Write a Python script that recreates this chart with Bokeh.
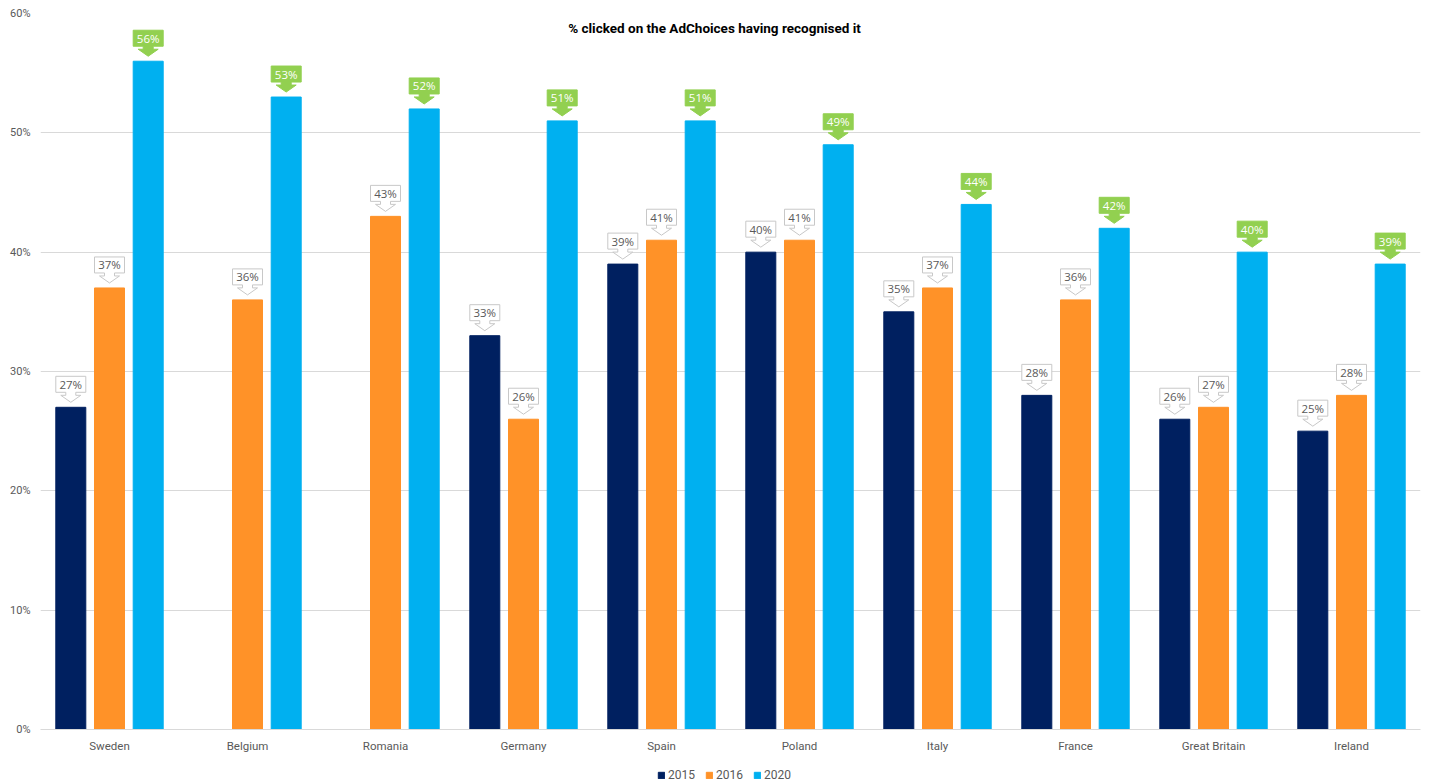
from bokeh.plotting import figure
from bokeh.models import Range1d, FixedTicker, Legend, LegendItem
from bokeh.layouts import column
from bokeh.embed import file_html
from bokeh.resources import INLINE
from bokeh.core.properties import value

countries = ["Sweden", "Belgium", "Romania", "Germany", "Spain", "Poland", "Italy", "France", "Great Britain", "Ireland"]
years = ["2015", "2016", "2020"]
v2015 = [27, None, None, 33, 39, 40, 35, 28, 26, 25]
v2016 = [37, 36, 43, 26, 41, 41, 37, 36, 27, 28]
v2020 = [56, 53, 52, 51, 51, 49, 44, 42, 40, 39]
y_ticks = [0, 10, 20, 30, 40, 50, 60]
title_text = "% clicked on the AdChoices having recognised it"

colors = ["#002060", "#FF9228", "#00B0F0"]
series = [v2015, v2016, v2020]

W, H = 1430, 783
LEG_H = 19
H1 = H - LEG_H
ML, MR, MT = 40, 10, 13
MB = H1 - 729
fw, fh = W - ML - MR, H1 - MT - MB
xmin, xmax, ymin, ymax = -0.5, 9.5, 0, 60
pxx = fw / (xmax - xmin)
pxy = fh / (ymax - ymin)

p = figure(width=W, height=H1, output_backend="svg", toolbar_location=None,
           x_range=Range1d(xmin, xmax), y_range=Range1d(ymin, ymax),
           min_border_left=ML, min_border_right=MR, min_border_top=MT, min_border_bottom=MB)
p.outline_line_color = None
p.xgrid.grid_line_color = None
p.ygrid.grid_line_color = "#D9D9D9"
p.ygrid.ticker = FixedTicker(ticks=y_ticks)

offsets = [-38.7 / pxx, 0.0, 38.7 / pxx]
bw = 30 / pxx

for k, (vals, col) in enumerate(zip(series, colors)):
    xs = [i + offsets[k] for i, v in enumerate(vals) if v is not None]
    ys = [v for v in vals if v is not None]
    p.vbar(x=xs, top=ys, bottom=0, width=bw, fill_color=col, line_color=col)

# callouts
box_w, box_h, stem_w, stem_h, head_w, head_h, gap = 30, 16, 10, 3, 20, 7, 5
for k, vals in enumerate(series):
    pxs, pys, tx, ty, tt = [], [], [], [], []
    for i, v in enumerate(vals):
        if v is None:
            continue
        cx = i + offsets[k]
        tip = v + gap / pxy
        hb = tip + head_h / pxy
        sb = hb + stem_h / pxy
        bt = sb + box_h / pxy
        hw, sw, bwh = head_w / 2 / pxx, stem_w / 2 / pxx, box_w / 2 / pxx
        pxs.append([cx, cx - hw, cx - sw, cx - sw, cx - bwh, cx - bwh, cx + bwh, cx + bwh, cx + sw, cx + sw, cx + hw])
        pys.append([tip, hb, hb, sb, sb, bt, bt, sb, sb, hb, hb])
        tx.append(cx)
        ty.append((sb + bt) / 2)
        tt.append(f"{v}%")
    if k == 2:
        fill, line, tcol = "#92D050", "#92D050", "#FFFFFF"
    else:
        fill, line, tcol = "#FFFFFF", "#C8C8C8", "#595959"
    p.patches(xs=pxs, ys=pys, fill_color=fill, line_color=line, line_width=1)
    p.text(x=tx, y=ty, text=tt, text_align="center", text_baseline="middle",
           text_font=value("Open Sans"), text_font_size="11.5px", text_color=tcol)

# title
p.text(x=[(714 - ML) / pxx + xmin], y=[ymax - (27 - MT) / pxy], text=[title_text],
       text_align="center", text_baseline="middle", text_font=value("Roboto"),
       text_font_size="13.5px", text_font_style="bold", text_color="#000000")

# axes
p.yaxis.ticker = FixedTicker(ticks=y_ticks)
p.yaxis.major_label_overrides = {t: f"{t}%" for t in y_ticks}
p.yaxis.axis_line_color = None
p.yaxis.major_tick_line_color = None
p.yaxis.minor_tick_line_color = None
p.yaxis.major_tick_out = 0
p.yaxis.major_label_text_font = "Roboto"
p.yaxis.major_label_text_font_size = "11px"
p.yaxis.major_label_text_color = "#595959"
p.yaxis.major_label_standoff = 10

p.xaxis.ticker = FixedTicker(ticks=list(range(len(countries))))
p.xaxis.major_label_overrides = {i: c for i, c in enumerate(countries)}
p.xaxis.axis_line_color = "#D9D9D9"
p.xaxis.major_tick_line_color = None
p.xaxis.minor_tick_line_color = None
p.xaxis.major_tick_out = 0
p.xaxis.major_tick_in = 0
p.xaxis.major_label_text_font = "Roboto"
p.xaxis.major_label_text_font_size = "11.5px"
p.xaxis.major_label_text_color = "#595959"
p.xaxis.major_label_standoff = 9

# legend strip
p2 = figure(width=W, height=LEG_H, output_backend="svg", toolbar_location=None,
            x_range=Range1d(0, 1), y_range=Range1d(0, 1),
            min_border_left=0, min_border_right=0, min_border_top=0, min_border_bottom=0)
p2.axis.visible = False
p2.grid.visible = False
p2.outline_line_color = None
leg_r = [p2.vbar(x=[-5], top=[-5], bottom=-6, width=0.1, fill_color=c, line_color=c) for c in colors]
legend = Legend(items=[LegendItem(label=y, renderers=[r]) for y, r in zip(years, leg_r)],
                orientation="horizontal", location=(617, 1),
                glyph_width=8, glyph_height=8, label_standoff=3, spacing=10, padding=2, margin=0,
                label_width=0,
                label_text_font="Roboto", label_text_font_size="12px", label_text_color="#595959",
                background_fill_alpha=0, border_line_color=None)
p2.add_layout(legend, "center")

layout = column(p, p2, spacing=0)
open("out.html", "w").write(file_html(layout, INLINE))
